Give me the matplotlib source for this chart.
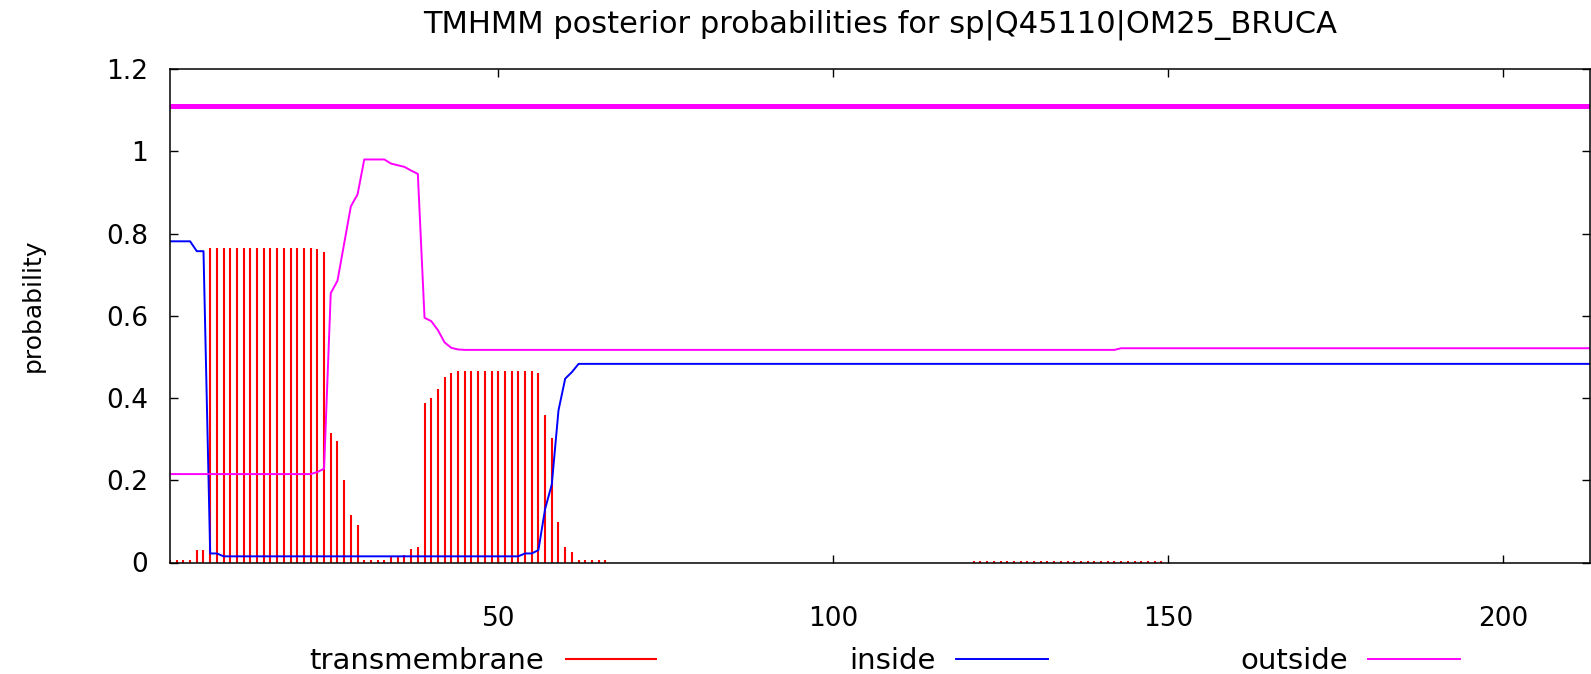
import numpy as np
import matplotlib
matplotlib.use("Agg")
import matplotlib.pyplot as plt

# --- data (residue 1..213) ---
SEQ_NAME = "sp|Q45110|OM25_BRUCA"
SEQ_LEN = 213

# transmembrane posterior (impulses)
tm_prob = ([0.005] * 4 + [0.03] * 2 + [0.765] * 16 + [0.763, 0.755]
           + [0.315, 0.296, 0.20, 0.115, 0.091]
           + [0.005] * 4 + [0.016, 0.016, 0.018, 0.034, 0.038]
           + [0.388, 0.399, 0.423, 0.45, 0.46] + [0.465] * 12
           + [0.46, 0.358, 0.302, 0.098, 0.038, 0.025] + [0.005] * 5
           + [0.0] * 54 + [0.004] * 29 + [0.0] * 64)

# inside posterior
inside_prob = ([0.781] * 4 + [0.757] * 2 + [0.022] * 2 + [0.015] * 45
               + [0.022, 0.022, 0.03, 0.13, 0.19, 0.37, 0.447, 0.463]
               + [0.483] * 152)

# outside posterior
outside_prob = ([0.215] * 22 + [0.22, 0.228, 0.655, 0.685, 0.775, 0.866, 0.895]
                + [0.98] * 4 + [0.97, 0.966, 0.962, 0.953, 0.945]
                + [0.595, 0.587, 0.565, 0.535, 0.522, 0.518]
                + [0.517] * 98 + [0.521] * 71)

# predicted topology: (start, end, label)
topology = [(1, 213, "outside")]

residues = np.arange(1, SEQ_LEN + 1)

RED = "#ff0000"
BLUE = "#0000ff"
MAGENTA = "#ff00ff"
FS = 19

W, H = 1591, 674
fig = plt.figure(figsize=(W / 100, H / 100), dpi=100)
ax = fig.add_axes([170 / W, 111.5 / H, 1420 / W, 493.5 / H])

tm = ax.vlines(residues, 0, tm_prob, color=RED, lw=1.5, label="transmembrane")
inside_line, = ax.plot(residues, inside_prob, color=BLUE, lw=1.4, label="inside")
outside_line, = ax.plot(residues, outside_prob, color=MAGENTA, lw=1.4, label="outside")

for start, end, kind in topology:
    c = MAGENTA if kind == "outside" else (BLUE if kind == "inside" else RED)
    ax.hlines(1.11, start, end, color=c, lw=3.6)

ax.set_xlim(1, SEQ_LEN)
ax.set_ylim(0, 1.2)
ax.set_xticks([50, 100, 150, 200])
ax.set_yticks([0, 0.2, 0.4, 0.6, 0.8, 1.0, 1.2])
ax.set_yticklabels(["0", "0.2", "0.4", "0.6", "0.8", "1", "1.2"])
ax.tick_params(direction="in", length=6, width=1, top=True, right=True,
               labelsize=FS, colors="black")
ax.tick_params(axis="x", pad=31)
ax.tick_params(axis="y", pad=16)
for s in ax.spines.values():
    s.set_linewidth(1.1)
    s.set_color("black")

ax.set_title("TMHMM posterior probabilities for " + SEQ_NAME, fontsize=22, pad=26)
ax.set_ylabel("probability", fontsize=18)
ax.yaxis.set_label_coords(-0.088, 0.522)

ax.legend(handles=[tm, inside_line, outside_line], loc="center",
          bbox_to_anchor=(885 / W, 1 - 661 / H), bbox_transform=fig.transFigure,
          ncol=3, markerfirst=False, frameon=False, fontsize=21,
          handlelength=3.15, handletextpad=0.7, columnspacing=6.6)

fig.savefig("out.png", dpi=100)
